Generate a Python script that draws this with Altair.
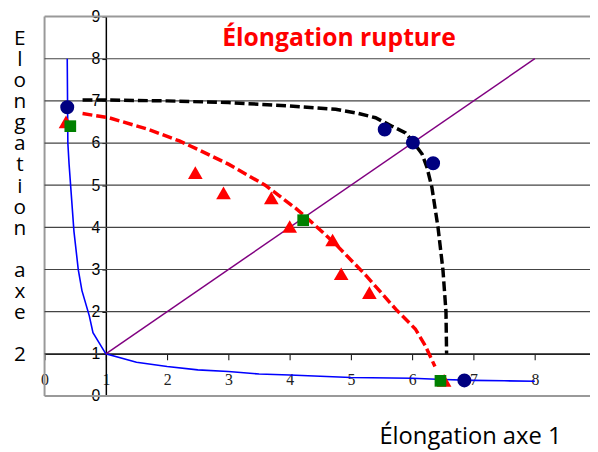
import altair as alt
import pandas as pd

XMAX = 8.9
W, H = 552, 384
PX = W / XMAX

# blue curve
blue_x = [0.37, 0.38, 0.40, 0.48, 0.55, 0.61, 0.73, 0.79, 1.0, 1.5, 2.0, 2.5, 3.0, 3.5, 4.0, 5.0, 6.0, 6.5, 7.0, 7.5, 8.0]
blue_y = [8.0, 6.0, 5.5, 3.9, 3.0, 2.5, 1.9, 1.5, 1.0, 0.8, 0.7, 0.62, 0.58, 0.52, 0.5, 0.44, 0.42, 0.39, 0.37, 0.36, 0.35]

# purple diagonal
diag_x = [1, 8]
diag_y = [1, 8]

# black dashed curve
black_x = [0.62, 1.0, 2.0, 3.0, 4.0, 4.75, 5.1, 5.4, 5.67, 5.89, 6.02, 6.16, 6.24, 6.32, 6.42, 6.5, 6.55, 6.56]
black_y = [7.02, 7.02, 7.0, 6.96, 6.88, 6.8, 6.71, 6.6, 6.4, 6.24, 6.01, 5.74, 5.42, 4.95, 4.0, 3.0, 2.0, 1.0]

# red dashed curve
red_x = [0.62, 1.05, 1.7, 2.2, 2.5, 3.0, 3.6, 4.1, 4.3, 4.75, 5.25, 5.73, 6.05, 6.21, 6.37]
red_y = [6.7, 6.6, 6.32, 6.05, 5.85, 5.5, 5.0, 4.45, 4.2, 3.6, 2.85, 2.06, 1.59, 1.2, 0.7]

# markers
circ_x = [0.37, 5.55, 6.01, 6.34, 6.85]
circ_y = [6.85, 6.32, 6.01, 5.52, 0.37]
tri_x = [0.35, 2.46, 2.92, 3.7, 4.0, 4.7, 4.84, 5.3, 6.52]
tri_y = [6.5, 5.3, 4.82, 4.7, 4.02, 3.7, 2.9, 2.45, 0.37]
sq_x = [0.42, 4.22, 6.46]
sq_y = [6.4, 4.17, 0.36]

x_ticks = [0, 1, 2, 3, 4, 5, 6, 7, 8]
y_ticks = [0, 1, 2, 3, 4, 5, 6, 7, 8, 9]
grid_y = [1, 2, 3, 4, 5, 6, 7, 8]

title_text = "Élongation rupture"
xtitle_text = "Élongation axe 1"
ytitle_parts = ["E\nl\no\nn\ng\na\nt\ni\no\nn", "a\nx\ne", "2"]

xs = alt.Scale(domain=[0, XMAX], nice=False, zero=False)
ys = alt.Scale(domain=[0, 9], nice=False, zero=False)


def df(xv, yv):
    return pd.DataFrame({"x": xv, "y": yv, "i": list(range(len(xv)))})


x_axis = alt.Axis(values=x_ticks, offset=-H / 9, grid=False, domainColor="black",
                  domainWidth=1.5, tickColor="black", tickSize=6, tickWidth=1,
                  labelFont="Liberation Serif", labelFontSize=16, labelColor="#222",
                  labelPadding=12, labelFlush=False, title=None)
y_axis = alt.Axis(values=y_ticks, offset=-PX, grid=False,
                  domainColor="black", domainWidth=1.5, tickColor="black", tickSize=4,
                  labelFont="Liberation Sans", labelFontSize=16, labelColor="black",
                  labelPadding=2, labelFlush=False, title=None)

X = alt.X("x:Q", scale=xs, axis=x_axis)
Y = alt.Y("y:Q", scale=ys, axis=y_axis)


def enc(c, ordered=False):
    if ordered:
        return c.encode(x=X, y=Y, order="i:Q")
    return c.encode(x=X, y=Y)


grid_df = pd.DataFrame({"gy": grid_y, "x0": [0.0] * len(grid_y), "x1": [XMAX] * len(grid_y)})
gridlines = alt.Chart(grid_df).mark_rule(color="#444444", strokeWidth=1.2, opacity=1).encode(
    x=alt.X("x0:Q", scale=xs, axis=x_axis), x2="x1:Q",
    y=alt.Y("gy:Q", scale=ys, axis=y_axis))
borders_h = alt.Chart(pd.DataFrame({"y": [0, 9]})).mark_rule(color="#999", strokeWidth=2).encode(y=Y)
border_v = alt.Chart(pd.DataFrame({"x": [0]})).mark_rule(color="#999", strokeWidth=2).encode(x=X)

blue = enc(alt.Chart(df(blue_x, blue_y)).mark_line(color="#0000FF", strokeWidth=1.6), True)
diag = enc(alt.Chart(df(diag_x, diag_y)).mark_line(color="#800080", strokeWidth=1.5))
black = enc(alt.Chart(df(black_x, black_y)).mark_line(
    color="black", strokeWidth=3.5, strokeDash=[10, 4]), True)
red = enc(alt.Chart(df(red_x, red_y)).mark_line(
    color="#FF0000", strokeWidth=3.5, strokeDash=[10, 4]), True)

tris = enc(alt.Chart(df(tri_x, tri_y)).mark_point(
    shape="triangle-up", filled=True, color="#FF0000", size=220, opacity=1))
sqs = enc(alt.Chart(df(sq_x, sq_y)).mark_point(
    shape="square", filled=True, color="#008000", size=140, opacity=1))
circs = enc(alt.Chart(df(circ_x, circ_y)).mark_point(
    shape="circle", filled=True, color="#000080", size=200, opacity=1))

title = alt.Chart(pd.DataFrame({"t": [title_text]})).mark_text(
    font="Open Sans", fontSize=25, fontWeight="bold", color="#FF0000",
    align="center", baseline="middle").encode(
    text="t:N", x=alt.value(298), y=alt.value(22))
xtitle = alt.Chart(pd.DataFrame({"t": [xtitle_text]})).mark_text(
    font="Open Sans", fontSize=24, color="black", align="center", baseline="middle").encode(
    text="t:N", x=alt.value(431), y=alt.value(426))

LH = 21.3
ytitle_df = pd.DataFrame({"t": ytitle_parts, "row": [0, 11, 15]})
ytitle = alt.Chart(ytitle_df).transform_calculate(
    py=f"12 + datum.row * {LH}"
).mark_text(
    font="Open Sans", fontSize=21, color="black", align="center", baseline="top",
    lineBreak="\n", lineHeight=LH).encode(
    text="t:N", x=alt.value(-25), y=alt.Y("py:Q", scale=None, axis=None))

chart = alt.layer(
    borders_h, border_v, gridlines, blue, diag, black, red, tris, sqs, circs, title, xtitle, ytitle
).properties(
    width=W, height=H,
    autosize=alt.AutoSizeParams(type="none"),
    padding={"left": 37, "top": 6, "right": 0, "bottom": 54},
    background="white",
).configure_view(stroke=None)

chart.save("out.html", embed_options={"renderer": "svg", "actions": False})
